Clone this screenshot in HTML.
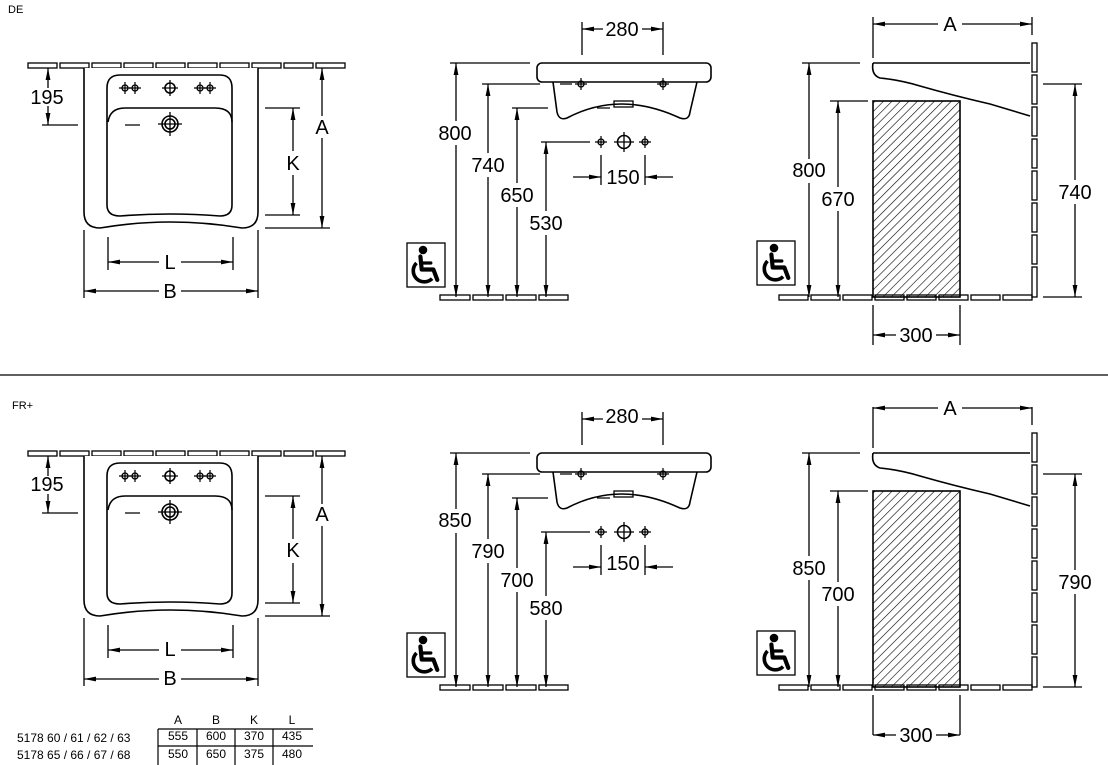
<!DOCTYPE html>
<html><head><meta charset="utf-8"><style>
html,body{margin:0;padding:0;background:#fff;}
svg{display:block;}
text{font-family:"Liberation Sans",sans-serif;fill:#000;}
</style></head><body>
<svg width="1108" height="765" viewBox="0 0 1108 765" xmlns="http://www.w3.org/2000/svg">
<defs>
<marker id="ar" viewBox="0 0 12 6" refX="12" refY="3" markerWidth="12" markerHeight="6" markerUnits="userSpaceOnUse" orient="auto-start-reverse"><path d="M0,0.6 L12,3 L0,5.4 Z" fill="#000"/></marker>
<pattern id="hatch" patternUnits="userSpaceOnUse" width="6" height="6" patternTransform="rotate(45)"><line x1="0" y1="0" x2="0" y2="6" stroke="#000" stroke-width="1.2"/></pattern>
<g id="wc" transform="scale(1.3)">
<circle cx="0" cy="0" r="3.3" fill="#000"/>
<path d="M-2,5 L-1,15 L8,15 L11,23" fill="none" stroke="#000" stroke-width="3.2" stroke-linecap="round" stroke-linejoin="round"/>
<path d="M-1,10 L6,10" stroke="#000" stroke-width="2.5" stroke-linecap="round"/>
<path d="M-5,10 A8,8 0 1 0 7,22" fill="none" stroke="#000" stroke-width="2.8"/>
</g>
<g id="cross"><circle r="3" fill="none" stroke="#000" stroke-width="1.3"/><path d="M-6,0 H6 M0,-6 V6" stroke="#000" stroke-width="1.2"/></g>
<g id="leftview" fill="none" stroke="#000" stroke-width="1.6">
<g stroke-width="1.3">
<rect x="28" y="63" width="29" height="5"/><rect x="60" y="63" width="29" height="5"/><rect x="92" y="63" width="29" height="5"/><rect x="124" y="63" width="29" height="5"/><rect x="156" y="63" width="29" height="5"/><rect x="188" y="63" width="29" height="5"/><rect x="220" y="63" width="29" height="5"/><rect x="252" y="63" width="29" height="5"/><rect x="284" y="63" width="29" height="5"/><rect x="316" y="63" width="29" height="5"/>
</g>
<path d="M84,68 L84,212 Q84,228 100,228 Q170,216 242,228 Q258,228 258,212 L258,68" fill="#fff"/>
<path d="M107,205 L107,88 Q107,75 120,75 L220,75 Q232,75 232,88 L232,205 Q232,216 220,216 Q170,212 120,216 Q107,216 107,205 Z"/>
<path d="M108,122 Q110,108 125,108 L215,108 Q232,108 232,122"/>
<circle cx="170" cy="124" r="8"/><circle cx="170" cy="124" r="5"/>
<path d="M158,124 H182 M170,112 V136 M125,125 H140" stroke-width="1.3"/>
<use href="#cross" x="125" y="88"/><use href="#cross" x="135" y="88"/><use href="#cross" x="200" y="88"/><use href="#cross" x="210" y="88"/>
<circle cx="170" cy="88" r="5"/><path d="M162,88 H178 M170,80 V96" stroke-width="1.3"/>
<g stroke-width="1.3">
<path d="M42,125 H78 M265,108 H300 M265,215 H300 M265,228 H330 M108,237 V270 M233,237 V270 M84,230 V298 M258,230 V298"/>
<path d="M48,88 V68" marker-end="url(#ar)"/><path d="M48,106 V125" marker-end="url(#ar)"/>
<path d="M322,116 V68" marker-end="url(#ar)"/><path d="M322,138 V228" marker-end="url(#ar)"/>
<path d="M293,151 V108" marker-end="url(#ar)"/><path d="M293,175 V215" marker-end="url(#ar)"/>
<path d="M159,262 H108" marker-end="url(#ar)"/><path d="M181,262 H233" marker-end="url(#ar)"/>
<path d="M159,291 H84" marker-end="url(#ar)"/><path d="M181,291 H258" marker-end="url(#ar)"/>
</g>
</g>
<g id="midshapes" fill="none" stroke="#000" stroke-width="1.6">
<rect x="537" y="63" width="174" height="19" rx="5"/>
<path d="M553,82 L557,112 Q559,121 567,118 Q620,90 680,118 Q689,121 690,112 L697,82"/>
<path d="M560,84 H572 M597,108 H610" stroke-width="1.3"/>
<rect x="614" y="101" width="19" height="6" stroke-width="1.3"/>
<use href="#cross" x="581" y="84"/><use href="#cross" x="663" y="84"/>
<use href="#cross" x="601" y="142"/><use href="#cross" x="645" y="142"/>
<circle cx="624" cy="142" r="6.5"/><path d="M614,142 H634 M624,132 V152" stroke-width="1.3"/>
<g stroke-width="1.3">
<rect x="440" y="295" width="30" height="5"/><rect x="473" y="295" width="30" height="5"/><rect x="506" y="295" width="30" height="5"/><rect x="539" y="295" width="29" height="5"/>
<rect x="407" y="243" width="38" height="44"/>
<path d="M450,63 H530 M482,84 H540 M512,108 H548 M541,142 H590 M582,22 V55 M663,22 V55 M601,155 V185 M645,155 V185"/>
<path d="M603,29 H582" marker-end="url(#ar)"/><path d="M642,29 H663" marker-end="url(#ar)"/>
<path d="M573,177 H601" marker-end="url(#ar)"/><path d="M673,177 H645" marker-end="url(#ar)"/>
</g>
</g>
<g id="rightshapes" fill="none" stroke="#000" stroke-width="1.6">
<rect x="873" y="101" width="87" height="196" fill="url(#hatch)"/>
<path d="M873,63 L1030,63 M873,63 Q871,75 880,78 Q900,80 920,86 Q955,96 990,104 Q1010,110 1030,116"/>
<g stroke-width="1.3">
<rect x="1032" y="43" width="5" height="29"/><rect x="1032" y="75" width="5" height="29"/><rect x="1032" y="107" width="5" height="29"/><rect x="1032" y="139" width="5" height="29"/><rect x="1032" y="171" width="5" height="29"/><rect x="1032" y="203" width="5" height="29"/><rect x="1032" y="235" width="5" height="29"/><rect x="1032" y="267" width="5" height="30"/>
<rect x="779" y="295" width="29" height="5"/><rect x="811" y="295" width="29" height="5"/><rect x="843" y="295" width="29" height="5"/><rect x="875" y="295" width="29" height="5"/><rect x="907" y="295" width="29" height="5"/><rect x="939" y="295" width="29" height="5"/><rect x="971" y="295" width="29" height="5"/><rect x="1003" y="295" width="29" height="5"/>
<rect x="757" y="241" width="38" height="44"/>
<path d="M873,17 V58 M1032,17 V35 M802,63 H860 M830,101 H868 M1043,84 H1082 M1043,297 H1082 M873,305 V345 M960,305 V345"/>
</g>
</g>
</defs>

<!-- TOP -->
<text x="8" y="13" font-size="11">DE</text>
<use href="#leftview"/>
<g font-size="20" text-anchor="middle">
<text x="47" y="104">195</text><text x="322" y="134">A</text><text x="293" y="170">K</text><text x="170" y="269">L</text><text x="170" y="298">B</text>
</g>
<use href="#midshapes"/>
<use href="#wc" x="423" y="250"/>
<g stroke="#000" stroke-width="1.3" fill="none">
<path d="M456,121 V63" marker-end="url(#ar)"/><path d="M456,145 V297" marker-end="url(#ar)"/>
<path d="M488,153 V84" marker-end="url(#ar)"/><path d="M488,177 V297" marker-end="url(#ar)"/>
<path d="M517,183 V108" marker-end="url(#ar)"/><path d="M517,207 V297" marker-end="url(#ar)"/>
<path d="M546,211 V142" marker-end="url(#ar)"/><path d="M546,235 V297" marker-end="url(#ar)"/>
</g>
<g font-size="20" text-anchor="middle">
<text x="455" y="140">800</text><text x="488" y="172">740</text><text x="517" y="202">650</text><text x="546" y="230">530</text>
<text x="622" y="36">280</text><text x="623" y="184">150</text>
</g>
<use href="#rightshapes"/>
<use href="#wc" x="774" y="248"/>
<g stroke="#000" stroke-width="1.3" fill="none">
<path d="M938,24 H873" marker-end="url(#ar)"/><path d="M962,24 H1032" marker-end="url(#ar)"/>
<path d="M809,159 V63" marker-end="url(#ar)"/><path d="M809,183 V297" marker-end="url(#ar)"/>
<path d="M838,187 V101" marker-end="url(#ar)"/><path d="M838,211 V297" marker-end="url(#ar)"/>
<path d="M1075,180 V84" marker-end="url(#ar)"/><path d="M1075,204 V297" marker-end="url(#ar)"/>
<path d="M896,335 H873" marker-end="url(#ar)"/><path d="M936,335 H960" marker-end="url(#ar)"/>
</g>
<g font-size="20" text-anchor="middle">
<text x="950" y="31">A</text><text x="809" y="177">800</text><text x="838" y="206">670</text><text x="1075" y="199">740</text><text x="916" y="342">300</text>
</g>

<line x1="0" y1="375" x2="1108" y2="375" stroke="#000" stroke-width="1.3"/>

<!-- BOTTOM -->
<text x="12" y="409" font-size="11">FR+</text>
<g transform="translate(0,388)"><use href="#leftview"/></g>
<g font-size="20" text-anchor="middle">
<text x="47" y="491">195</text><text x="322" y="521">A</text><text x="293" y="557">K</text><text x="170" y="656">L</text><text x="170" y="685">B</text>
</g>
<g transform="translate(0,390)"><use href="#midshapes"/><use href="#wc" x="423" y="250"/>
<g stroke="#000" stroke-width="1.3" fill="none">
<path d="M456,119 V63" marker-end="url(#ar)"/><path d="M456,143 V297" marker-end="url(#ar)"/>
<path d="M488,149 V84" marker-end="url(#ar)"/><path d="M488,173 V297" marker-end="url(#ar)"/>
<path d="M517,178 V108" marker-end="url(#ar)"/><path d="M517,202 V297" marker-end="url(#ar)"/>
<path d="M546,206 V142" marker-end="url(#ar)"/><path d="M546,230 V297" marker-end="url(#ar)"/>
</g>
<g font-size="20" text-anchor="middle">
<text x="455" y="137">850</text><text x="488" y="168">790</text><text x="517" y="197">700</text><text x="546" y="225">580</text>
<text x="622" y="33">280</text><text x="623" y="180">150</text>
</g>
</g>
<g transform="translate(0,390)"><use href="#rightshapes"/><use href="#wc" x="774" y="248"/>
<g stroke="#000" stroke-width="1.3" fill="none">
<path d="M938,18 H873" marker-end="url(#ar)"/><path d="M962,18 H1032" marker-end="url(#ar)"/>
<path d="M809,166 V63" marker-end="url(#ar)"/><path d="M809,190 V297" marker-end="url(#ar)"/>
<path d="M838,192 V101" marker-end="url(#ar)"/><path d="M838,216 V297" marker-end="url(#ar)"/>
<path d="M1075,180 V84" marker-end="url(#ar)"/><path d="M1075,204 V297" marker-end="url(#ar)"/>
<path d="M896,345 H873" marker-end="url(#ar)"/><path d="M936,345 H960" marker-end="url(#ar)"/>
</g>
<g font-size="20" text-anchor="middle">
<text x="950" y="25">A</text><text x="809" y="185">850</text><text x="838" y="211">700</text><text x="1075" y="199">790</text><text x="916" y="352">300</text>
</g>
</g>

<!-- table -->
<g font-size="12">
<text x="178" y="724" text-anchor="middle">A</text><text x="216" y="724" text-anchor="middle">B</text><text x="254" y="724" text-anchor="middle">K</text><text x="292" y="724" text-anchor="middle">L</text>
<text x="17" y="742">5178 60 / 61 / 62 / 63</text>
<text x="17" y="759">5178 65 / 66 / 67 / 68</text>
<text x="178" y="740" text-anchor="middle">555</text><text x="216" y="740" text-anchor="middle">600</text><text x="254" y="740" text-anchor="middle">370</text><text x="292" y="740" text-anchor="middle">435</text>
<text x="178" y="758" text-anchor="middle">550</text><text x="216" y="758" text-anchor="middle">650</text><text x="254" y="758" text-anchor="middle">375</text><text x="292" y="758" text-anchor="middle">480</text>
</g>
<g stroke="#000" stroke-width="1.2" fill="none">
<path d="M158,729 H313 M158,746 H313 M158,729 V765 M197,729 V765 M235,729 V765 M273,729 V765"/>
</g>
</svg>
</body></html>
